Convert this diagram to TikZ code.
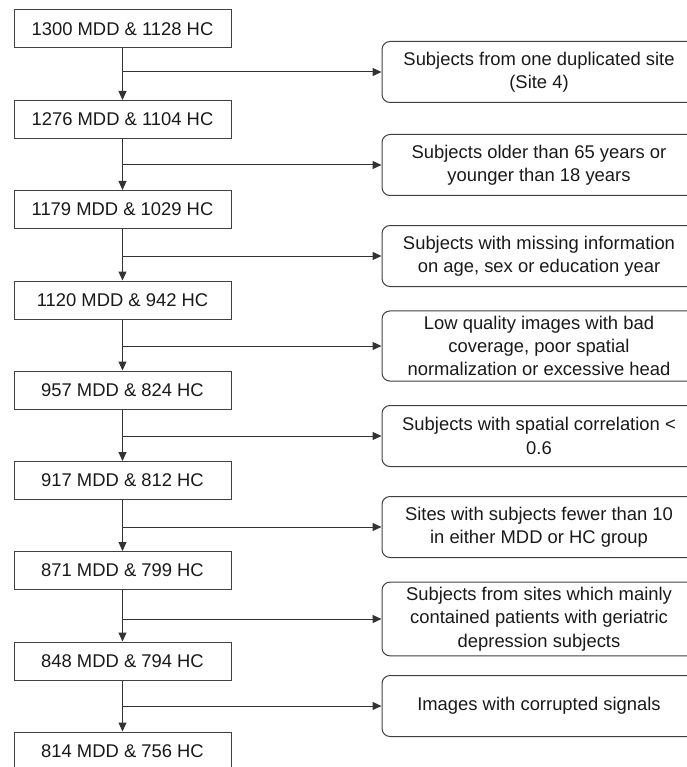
\documentclass[tikz,border=0pt]{standalone}
\usepackage{fontspec}
\setmainfont{Liberation Sans}
\usetikzlibrary{arrows.meta}
\begin{document}
\begin{tikzpicture}[x=1pt, y=-1pt, font=\fontsize{18.4}{23.3}\selectfont, text=black!90,
    countbox/.style={draw=black!75, line width=1pt, minimum width=217pt, minimum height=38pt, inner sep=0pt},
    excludebox/.style={draw=black!75, line width=1pt, rounded corners=8pt, minimum width=314pt, minimum height=61pt, inner ysep=5pt, align=center},
    flow/.style={-{Triangle[length=9pt,width=8pt]}, draw=black!80, line width=1pt}]
    \useasboundingbox (0,0) rectangle (686,767);
    % remaining subjects
    \node[countbox] (n1) at (122.5,29) {1300 MDD \& 1128 HC};
    \node[countbox] (n2) at (122.5,119.5) {1276 MDD \& 1104 HC};
    \node[countbox] (n3) at (122.5,209.5) {1179 MDD \& 1029 HC};
    \node[countbox] (n4) at (122.5,300) {1120 MDD \& 942 HC};
    \node[countbox] (n5) at (122.5,390) {957 MDD \& 824 HC};
    \node[countbox] (n6) at (122.5,480.5) {917 MDD \& 812 HC};
    \node[countbox] (n7) at (122.5,570.5) {871 MDD \& 799 HC};
    \node[countbox] (n8) at (122.5,661) {848 MDD \& 794 HC};
    \node[countbox] (n9) at (122.5,751) {814 MDD \& 756 HC};
    % exclusion criteria
    \node[excludebox] (x1) at (539,72) {Subjects from one duplicated site\\(Site 4)};
    \node[excludebox] (x2) at (539,165) {Subjects older than 65 years or\\younger than 18 years};
    \node[excludebox] (x3) at (539,256) {Subjects with missing information\\on age, sex or education year};
    \node[excludebox] (x4) at (539,346) {Low quality images with bad\\coverage, poor spatial\\normalization or excessive head};
    \node[excludebox] (x5) at (539,436) {Subjects with spatial correlation <\\0.6};
    \node[excludebox] (x6) at (539,527) {Sites with subjects fewer than 10\\in either MDD or HC group};
    \node[excludebox] (x7) at (539,619) {Subjects from sites which mainly\\contained patients with geriatric\\depression subjects};
    \node[excludebox] (x8) at (539,706) {Images with corrupted signals};
    \foreach \i/\j in {1/2,2/3,3/4,4/5,5/6,6/7,7/8,8/9} {
        \draw[flow] (n\i) -- (n\j);
        \draw[flow] (n\i.south |- x\i.west) -- (x\i.west);
    }
\end{tikzpicture}
\end{document}
